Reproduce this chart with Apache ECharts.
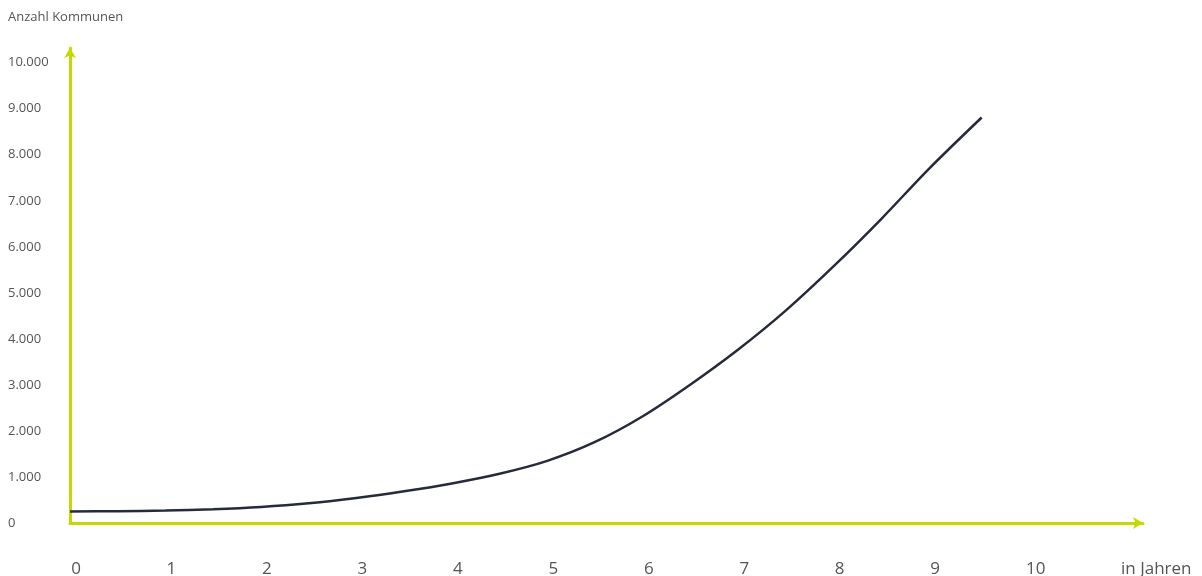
<!DOCTYPE html>
<html>
<head>
<meta charset="utf-8">
<script src="https://cdn.jsdelivr.net/npm/echarts@6/dist/echarts.min.js"></script>
<style>
  html, body { margin: 0; padding: 0; background: #fff; }
  #chart { width: 1202px; height: 576px; }
</style>
</head>
<body>
<div id="chart"></div>
<script>
// Anzahl Kommunen ueber die Jahre
var years = [0, 0.5, 1, 1.5, 2, 2.5, 3, 3.5, 4, 4.5, 5, 5.5, 6, 6.5, 7, 7.5, 8, 8.5, 9, 9.55];
var kommunen = [250, 256, 270, 300, 350, 430, 545, 690, 860, 1070, 1350, 1760, 2320, 3010, 3770, 4620, 5580, 6610, 7700, 8810];
var yTicks = [0, 1000, 2000, 3000, 4000, 5000, 6000, 7000, 8000, 9000, 10000];
var xTicks = [0, 1, 2, 3, 4, 5, 6, 7, 8, 9, 10];

function show_chart(chart_id){
  var chartDom = document.getElementById(chart_id);
  var myChart = echarts.init(chartDom);
  var green = '#c4d900';
  var option;

  option = {
    animation: false,
    title: [
      {
        text: 'Anzahl Kommunen',
        left: 3,
        top: 6,
        textStyle: { fontFamily: 'Open Sans', fontSize: 13, fontWeight: 'normal', color: '#555' }
      },
      {
        text: 'in Jahren',
        left: 1116,
        top: 556,
        textStyle: { fontFamily: 'Open Sans', fontSize: 17, fontWeight: 'normal', color: '#555' }
      }
    ],
    grid: {
      left: 70,
      right: 59,
      top: 48,
      bottom: 53,
      outerBoundsMode: 'none'
    },
    xAxis: {
      type: 'value',
      min: 0,
      max: 11.24,
      interval: 1,
      splitLine: { show: false },
      axisTick: { show: false },
      axisLine: {
        lineStyle: { color: green, width: 3 },
        symbol: ['none', 'arrow'],
        symbolSize: [9, 10]
      },
      axisLabel: {
        margin: 38,
        fontFamily: 'Open Sans',
        fontSize: 17,
        color: '#555',
        padding: [0, 0, 0, 12],
        showMaxLabel: false,
        formatter: function (v) {
          if (xTicks.indexOf(v) < 0) return '';
          return v === 10 ? '{ten|10}' : String(v);
        },
        rich: {
          ten: { fontFamily: 'Open Sans', fontSize: 17, color: '#555', padding: [0, 0, 0, 10] }
        }
      }
    },
    yAxis: {
      type: 'value',
      min: 0,
      max: 10320,
      interval: 1000,
      splitLine: { show: false },
      axisTick: { show: false },
      axisLine: {
        show: true,
        lineStyle: { color: green, width: 3 },
        symbol: ['none', 'arrow'],
        symbolSize: [9, 10]
      },
      axisLabel: {
        margin: 62,
        align: 'left',
        fontFamily: 'Open Sans',
        fontSize: 13,
        color: '#555',
        showMaxLabel: false,
        formatter: function (v) {
          if (yTicks.indexOf(v) < 0) return '';
          return v.toLocaleString('de-DE');
        }
      }
    },
    series: [
      {
        type: 'line',
        smooth: 0.3,
        showSymbol: false,
        lineStyle: { color: '#262b3b', width: 2.5 },
        data: years.map(function (x, i) { return [x, kommunen[i]]; })
      }
    ]
  };

  option && myChart.setOption(option);
  window.addEventListener('resize', function () {myChart.resize();});
}

show_chart('chart');
</script>
</body>
</html>
